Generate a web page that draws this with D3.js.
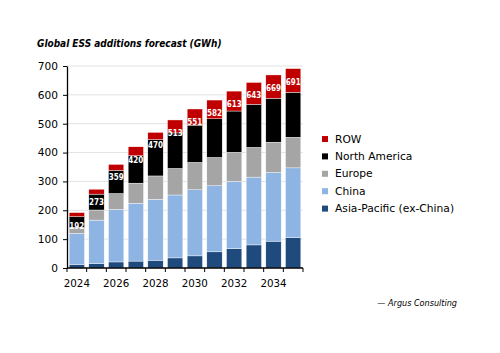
<!DOCTYPE html>
<html>
<head>
<meta charset="utf-8">
<script src="https://cdn.jsdelivr.net/npm/d3@7"></script>
<style>
  html, body { margin: 0; padding: 0; background: #fff; }
  svg { display: block; font-family: "DejaVu Sans", sans-serif; }
  .cond { font-family: "DejaVu Sans Condensed", "DejaVu Sans", sans-serif; font-stretch: condensed; }
</style>
</head>
<body>
<div id="chart"></div>
<script>
// Global ESS additions forecast, GWh
const years = [2024, 2025, 2026, 2027, 2028, 2029, 2030, 2031, 2032, 2033, 2034, 2035];
const apac    = [12, 15, 21, 24, 27, 35, 42, 56, 67, 80, 93, 105];
const china   = [108, 151, 182, 200, 211, 218, 229, 229, 233, 235, 238, 242];
const europe  = [21, 35, 55, 70, 81, 92, 95, 98, 101, 103, 105, 106];
const namer   = [37, 55, 80, 95, 126, 123, 129, 134, 143, 149, 152, 156];
const row     = [14, 17, 21, 31, 25, 45, 56, 65, 69, 76, 81, 82];
const totals  = [192, 273, 359, 420, 470, 513, 551, 582, 613, 643, 669, 691];
const yTicks  = [0, 100, 200, 300, 400, 500, 600, 700];
const xTickLabels = [2024, 2026, 2028, 2030, 2032, 2034];

// bottom-to-top stacking order
const series = [
  { key: "apac",   name: "Asia-Pacific (ex-China)", color: "#1f4a7e", vals: apac },
  { key: "china",  name: "China",                   color: "#8db4e2", vals: china },
  { key: "europe", name: "Europe",                  color: "#a5a5a5", vals: europe },
  { key: "namer",  name: "North America",           color: "#000000", vals: namer },
  { key: "row",    name: "ROW",                     color: "#c00000", vals: row },
];

const W = 500, H = 353;
const margin = { top: 66, right: 197, bottom: 85, left: 67 };
const w = W - margin.left - margin.right;
const h = H - margin.top - margin.bottom;

const svg = d3.select("#chart").append("svg")
  .attr("width", W).attr("height", H);

svg.append("text").attr("class", "cond").attr("x", 37).attr("y", 47)
  .style("font-size", "10px").style("font-weight", "bold").style("font-style", "italic")
  .style("fill", "#000")
  .text("Global ESS additions forecast (GWh)");

const g = svg.append("g").attr("transform", `translate(${margin.left},${margin.top})`);

const x = d3.scaleBand().domain(years).range([0, w]).paddingInner(0.22).paddingOuter(0.11);
const y = d3.scaleLinear().domain([0, 700]).range([h, 0]);

// Grid
g.append("g").selectAll("line").data(yTicks.slice(1)).enter().append("line")
  .attr("x1", 0).attr("x2", w).attr("y1", d => y(d)).attr("y2", d => y(d))
  .attr("stroke", "#e3e3e3").attr("stroke-width", 1);

// Stacked bars
const table = years.map((yr, i) => {
  const o = { year: yr };
  series.forEach(s => { o[s.key] = s.vals[i]; });
  return o;
});
const stacked = d3.stack().keys(series.map(s => s.key))(table);

g.selectAll(".layer").data(stacked).enter().append("g")
  .attr("fill", (d, i) => series[i].color)
  .selectAll("rect").data(d => d).enter().append("rect")
  .attr("x", d => x(d.data.year)).attr("width", x.bandwidth())
  .attr("y", d => y(d[1])).attr("height", d => y(d[0]) - y(d[1]))
  .attr("stroke", "#fff").attr("stroke-width", 0.4);

// Total labels
g.selectAll(".tot").data(years).enter().append("text")
  .attr("class", "cond")
  .attr("x", (d) => x(d) + x.bandwidth() / 2)
  .attr("y", (d, i) => y(totals[i]) + 13.5)
  .attr("text-anchor", "middle").attr("dominant-baseline", "central")
  .style("font-size", "8px").style("font-weight", "bold").style("fill", "#fff")
  .text((d, i) => totals[i]);

// Y axis
const yAxis = g.append("g")
  .call(d3.axisLeft(y).tickValues(yTicks).tickSize(4).tickSizeOuter(0).tickPadding(5));
yAxis.select(".domain").attr("stroke", "#000").attr("stroke-width", 1.3);
yAxis.selectAll(".tick line").attr("stroke", "#000");
yAxis.selectAll("text").style("font-size", "10.6px").style("font-family", "DejaVu Sans, sans-serif").style("fill", "#000");

// X axis: ticks at category boundaries
const boundaries = d3.range(years.length + 1).map(i => i * w / years.length);
const xAxisG = g.append("g").attr("transform", `translate(0,${h})`);
xAxisG.append("line").attr("x1", 0).attr("x2", w).attr("stroke", "#000").attr("stroke-width", 1.3);
xAxisG.selectAll("line.tk").data(boundaries).enter().append("line").attr("class", "tk")
  .attr("x1", d => d).attr("x2", d => d).attr("y1", 0).attr("y2", 4)
  .attr("stroke", "#000");
xAxisG.selectAll("text").data(xTickLabels).enter().append("text")
  .attr("x", d => x(d) + x.bandwidth() / 2).attr("y", 19)
  .attr("text-anchor", "middle")
  .style("font-size", "10.3px").style("fill", "#000")
  .text(d => d);

// Legend (top to bottom: ROW first)
const legend = svg.append("g").attr("transform", "translate(322,139)");
series.slice().reverse().forEach((s, i) => {
  const r = legend.append("g").attr("transform", `translate(0,${i * 17.4})`);
  r.append("rect").attr("x", 0).attr("y", -3).attr("width", 6).attr("height", 6).attr("fill", s.color);
  r.append("text").attr("x", 13).attr("y", 0).attr("dominant-baseline", "central")
    .style("font-size", "10.7px").style("fill", "#000").text(s.name);
});

// Source
svg.append("text").attr("class", "cond").attr("x", 457).attr("y", 306).attr("text-anchor", "end")
  .style("font-size", "9px").style("font-style", "italic").style("fill", "#000")
  .text("— Argus Consulting");
</script>
</body>
</html>
